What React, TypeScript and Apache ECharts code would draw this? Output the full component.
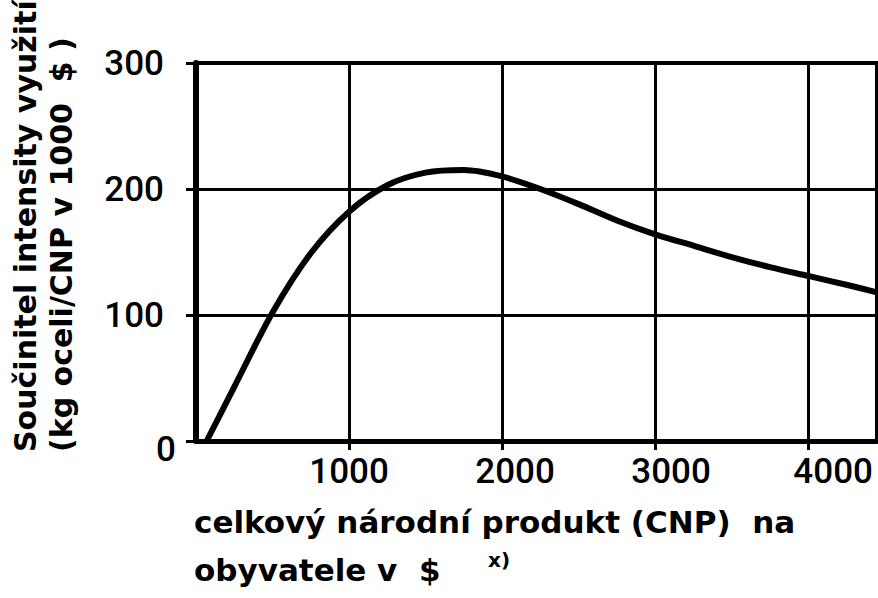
import React, { useEffect, useRef } from "react";
import * as echarts from "echarts";

// GNP per inhabitant (USD) and steel intensity coefficient (kg steel / GNP per 1000 USD)
const gnp = [70, 250, 500, 750, 1000, 1250, 1500, 1750, 2000, 2250, 2500, 2750, 3000, 3250, 3500, 3750, 4000, 4250, 4450];
const intensity = [0, 43, 102, 149, 182, 203, 213, 215, 210, 200, 188, 175, 164, 155, 146, 138, 131, 124, 118];

const xTickLabels = [1000, 2000, 3000, 4000];
const yTickLabels = [0, 100, 200, 300];

const yTitle1 = "Součinitel intensity využití";
const yTitle2 = "(kg oceli/CNP v 1000  $ )";
const xTitle1 = "celkový národní produkt (CNP)  na";
const xTitle2 = "obyvatele v  $";
const xNote = "x)";

const DIGIT_FONT = 'Roboto, "Liberation Sans", sans-serif';
const TITLE_FONT = '"DejaVu Sans", "Noto Sans", sans-serif';

// horizontal nudges of the hand-lettered x labels (px, doubled as left padding)
const xLabelShift: Record<number, number> = { 1000: 0, 2000: 26, 3000: 32, 4000: 50 };

export default function App() {
  const ref = useRef<HTMLDivElement>(null);

  useEffect(() => {
    document.body.style.margin = "0";
    const chart = echarts.init(ref.current!, null, { renderer: "svg" });

    const digitStyle = {
      fontFamily: DIGIT_FONT,
      fontSize: 35,
      fontWeight: 500,
      color: "#000",
    };

    const xRich: Record<string, any> = {};
    xTickLabels.forEach((v) => {
      xRich["x" + v] = { ...digitStyle, padding: [0, 0, 0, xLabelShift[v] || 0] };
    });

    chart.setOption({
      animation: false,
      backgroundColor: "#fff",
      grid: {
        left: 196,
        right: 1,
        top: 63,
        bottom: 157,
        show: true,
        borderColor: "#000",
        borderWidth: 4,
        containLabel: false,
        outerBoundsMode: "none",
      },
      xAxis: {
        type: "value",
        min: 0,
        max: 4450,
        interval: 500,
        axisLine: { show: true, onZero: false, lineStyle: { color: "#000", width: 5 } },
        axisTick: {
          show: true,
          customValues: xTickLabels,
          length: 9,
          lineStyle: { color: "#000", width: 3 },
        },
        splitLine: { show: true, lineStyle: { color: "#000", width: 3 } },
        axisLabel: {
          customValues: xTickLabels,
          margin: 13,
          formatter: (v: number) => `{x${v}|${v}}`,
          rich: xRich,
        },
      },
      yAxis: {
        type: "value",
        min: 0,
        max: 300,
        interval: 100,
        axisLine: { show: true, lineStyle: { color: "#000", width: 6 } },
        axisTick: { show: true, length: 10, lineStyle: { color: "#000", width: 3 } },
        splitLine: { show: true, lineStyle: { color: "#000", width: 3 } },
        axisLabel: {
          margin: 16,
          customValues: yTickLabels,
          formatter: (v: number) => (v === 0 ? `{z|${v}}` : `{n|${v}}`),
          rich: {
            n: { ...digitStyle, padding: [0, 16, 0, 0] },
            z: { ...digitStyle, padding: [16, 4, 0, 0] },
          },
        },
      },
      series: [
        {
          type: "line",
          data: gnp.map((g, i) => [g, intensity[i]]),
          smooth: 0.3,
          showSymbol: false,
          lineStyle: { color: "#000", width: 6 },
          clip: true,
        },
      ],
      graphic: [
        {
          type: "text",
          x: 25,
          y: 452,
          rotation: Math.PI / 2,
          style: {
            text: yTitle1,
            font: `bold 30px ${TITLE_FONT}`,
            fill: "#000",
            align: "left",
            verticalAlign: "middle",
          },
        },
        {
          type: "text",
          x: 61,
          y: 452,
          rotation: Math.PI / 2,
          style: {
            text: yTitle2,
            font: `bold 30px ${TITLE_FONT}`,
            fill: "#000",
            align: "left",
            verticalAlign: "middle",
          },
        },
        {
          type: "text",
          x: 194,
          y: 522,
          style: {
            text: xTitle1,
            font: `bold 31px ${TITLE_FONT}`,
            fill: "#000",
            align: "left",
            verticalAlign: "middle",
          },
        },
        {
          type: "text",
          x: 194,
          y: 570,
          style: {
            text: xTitle2,
            font: `bold 31px ${TITLE_FONT}`,
            fill: "#000",
            align: "left",
            verticalAlign: "middle",
          },
        },
        {
          type: "text",
          x: 488,
          y: 560,
          style: {
            text: xNote,
            font: `bold 20px ${TITLE_FONT}`,
            fill: "#000",
            align: "left",
            verticalAlign: "middle",
          },
        },
      ],
    });

    return () => chart.dispose();
  }, []);

  return (
    <div
      ref={ref}
      style={{ position: "absolute", left: 0, top: 0, width: 878, height: 598 }}
    />
  );
}
